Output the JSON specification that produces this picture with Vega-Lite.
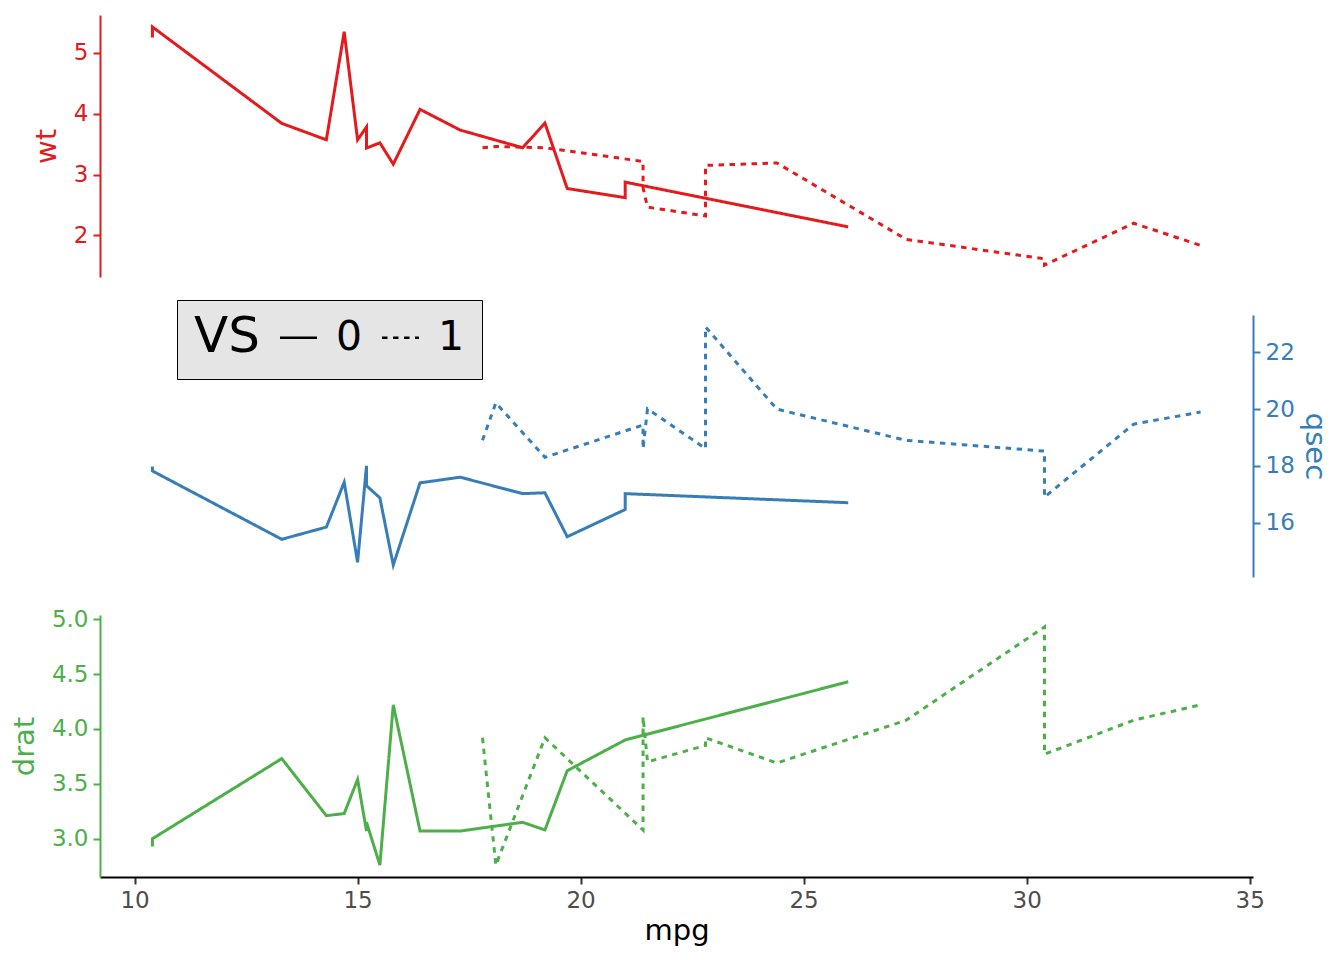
{
  "$schema": "https://vega.github.io/schema/vega-lite/v6.json",
  "background": "white",
  "padding": {"left": 10, "top": 15, "right": 10, "bottom": 10},
  "data": {
    "values": [
      {"car": "Cadillac Fleetwood", "mpg": 10.4, "wt": 5.25, "qsec": 17.98, "drat": 2.93, "vs": "0", "ord": 1},
      {"car": "Lincoln Continental", "mpg": 10.4, "wt": 5.424, "qsec": 17.82, "drat": 3.0, "vs": "0", "ord": 2},
      {"car": "Camaro Z28", "mpg": 13.3, "wt": 3.84, "qsec": 15.41, "drat": 3.73, "vs": "0", "ord": 3},
      {"car": "Duster 360", "mpg": 14.3, "wt": 3.57, "qsec": 15.84, "drat": 3.21, "vs": "0", "ord": 4},
      {"car": "Chrysler Imperial", "mpg": 14.7, "wt": 5.345, "qsec": 17.42, "drat": 3.23, "vs": "0", "ord": 5},
      {"car": "Maserati Bora", "mpg": 15.0, "wt": 3.57, "qsec": 14.6, "drat": 3.54, "vs": "0", "ord": 6},
      {"car": "Merc 450SLC", "mpg": 15.2, "wt": 3.78, "qsec": 18.0, "drat": 3.07, "vs": "0", "ord": 7},
      {"car": "AMC Javelin", "mpg": 15.2, "wt": 3.435, "qsec": 17.3, "drat": 3.15, "vs": "0", "ord": 8},
      {"car": "Dodge Challenger", "mpg": 15.5, "wt": 3.52, "qsec": 16.87, "drat": 2.76, "vs": "0", "ord": 9},
      {"car": "Ford Pantera L", "mpg": 15.8, "wt": 3.17, "qsec": 14.5, "drat": 4.22, "vs": "0", "ord": 10},
      {"car": "Merc 450SE", "mpg": 16.4, "wt": 4.07, "qsec": 17.4, "drat": 3.07, "vs": "0", "ord": 11},
      {"car": "Merc 450SL", "mpg": 17.3, "wt": 3.73, "qsec": 17.6, "drat": 3.07, "vs": "0", "ord": 12},
      {"car": "Merc 280C", "mpg": 17.8, "wt": 3.44, "qsec": 18.9, "drat": 3.92, "vs": "1", "ord": 13},
      {"car": "Valiant", "mpg": 18.1, "wt": 3.46, "qsec": 20.22, "drat": 2.76, "vs": "1", "ord": 14},
      {"car": "Hornet Sportabout", "mpg": 18.7, "wt": 3.44, "qsec": 17.02, "drat": 3.15, "vs": "0", "ord": 15},
      {"car": "Merc 280", "mpg": 19.2, "wt": 3.44, "qsec": 18.3, "drat": 3.92, "vs": "1", "ord": 16},
      {"car": "Pontiac Firebird", "mpg": 19.2, "wt": 3.845, "qsec": 17.05, "drat": 3.08, "vs": "0", "ord": 17},
      {"car": "Ferrari Dino", "mpg": 19.7, "wt": 2.77, "qsec": 15.5, "drat": 3.62, "vs": "0", "ord": 18},
      {"car": "Mazda RX4", "mpg": 21.0, "wt": 2.62, "qsec": 16.46, "drat": 3.9, "vs": "0", "ord": 19},
      {"car": "Mazda RX4 Wag", "mpg": 21.0, "wt": 2.875, "qsec": 17.02, "drat": 3.9, "vs": "0", "ord": 20},
      {"car": "Hornet 4 Drive", "mpg": 21.4, "wt": 3.215, "qsec": 19.44, "drat": 3.08, "vs": "1", "ord": 21},
      {"car": "Volvo 142E", "mpg": 21.4, "wt": 2.78, "qsec": 18.6, "drat": 4.11, "vs": "1", "ord": 22},
      {"car": "Toyota Corona", "mpg": 21.5, "wt": 2.465, "qsec": 20.01, "drat": 3.7, "vs": "1", "ord": 23},
      {"car": "Datsun 710", "mpg": 22.8, "wt": 2.32, "qsec": 18.61, "drat": 3.85, "vs": "1", "ord": 24},
      {"car": "Merc 230", "mpg": 22.8, "wt": 3.15, "qsec": 22.9, "drat": 3.92, "vs": "1", "ord": 25},
      {"car": "Merc 240D", "mpg": 24.4, "wt": 3.19, "qsec": 20.0, "drat": 3.69, "vs": "1", "ord": 26},
      {"car": "Porsche 914-2", "mpg": 26.0, "wt": 2.14, "qsec": 16.7, "drat": 4.43, "vs": "0", "ord": 27},
      {"car": "Fiat X1-9", "mpg": 27.3, "wt": 1.935, "qsec": 18.9, "drat": 4.08, "vs": "1", "ord": 28},
      {"car": "Honda Civic", "mpg": 30.4, "wt": 1.615, "qsec": 18.52, "drat": 4.93, "vs": "1", "ord": 29},
      {"car": "Lotus Europa", "mpg": 30.4, "wt": 1.513, "qsec": 16.9, "drat": 3.77, "vs": "1", "ord": 30},
      {"car": "Fiat 128", "mpg": 32.4, "wt": 2.2, "qsec": 19.47, "drat": 4.08, "vs": "1", "ord": 31},
      {"car": "Toyota Corolla", "mpg": 33.9, "wt": 1.835, "qsec": 19.9, "drat": 4.22, "vs": "1", "ord": 32}
    ]
  },
  "spacing": 31,
  "vconcat": [
    {
      "spacing": 38,
      "vconcat": [
        {
          "width": 1153,
          "height": 262,
          "mark": {"type": "line", "strokeWidth": 3, "color": "#E41A1C"},
          "encoding": {
            "x": {
              "field": "mpg",
              "type": "quantitative",
              "scale": {"domain": [9.225, 35.075], "nice": false, "zero": false},
              "axis": null
            },
            "y": {
              "field": "wt",
              "type": "quantitative",
              "scale": {"domain": [1.317, 5.62], "nice": false, "zero": false},
              "axis": {
                "title": "wt",
                "values": [2, 3, 4, 5],
                "labelColor": "#E41A1C",
                "titleColor": "#E41A1C",
                "domainColor": "#E41A1C",
                "tickColor": "#E41A1C"
              }
            },
            "strokeDash": {
              "field": "vs",
              "type": "nominal",
              "scale": {"domain": ["0", "1"], "range": [[1, 0], [5.5, 5.5]]},
              "legend": {"title": "VS", "symbolStrokeColor": "black"}
            },
            "order": {"field": "ord"}
          }
        },
        {
          "width": 1153,
          "height": 262,
          "mark": {"type": "line", "strokeWidth": 3, "color": "#377EB8"},
          "encoding": {
            "x": {
              "field": "mpg",
              "type": "quantitative",
              "scale": {"domain": [9.225, 35.075], "nice": false, "zero": false},
              "axis": null
            },
            "y": {
              "field": "qsec",
              "type": "quantitative",
              "scale": {"domain": [14.08, 23.32], "nice": false, "zero": false},
              "axis": {
                "title": "qsec",
                "orient": "right",
                "values": [16, 18, 20, 22],
                "titlePadding": 5,
                "labelColor": "#377EB8",
                "titleColor": "#377EB8",
                "domainColor": "#377EB8",
                "tickColor": "#377EB8"
              }
            },
            "strokeDash": {
              "field": "vs",
              "type": "nominal",
              "legend": {"title": "VS", "symbolStrokeColor": "black"}
            },
            "order": {"field": "ord"}
          }
        }
      ]
    },
    {
      "width": 1153,
      "height": 262,
      "mark": {"type": "line", "strokeWidth": 3, "color": "#4DAF4A"},
      "encoding": {
        "x": {
          "field": "mpg",
          "type": "quantitative",
          "scale": {"domain": [9.225, 35.075], "nice": false, "zero": false},
          "axis": {
            "title": "mpg",
            "values": [10, 15, 20, 25, 30, 35],
            "titlePadding": 4,
            "labelColor": "#4D4D4D",
            "titleColor": "black",
            "domainColor": "black",
            "tickColor": "#333333"
          }
        },
        "y": {
          "field": "drat",
          "type": "quantitative",
          "scale": {"domain": [2.6515, 5.0385], "nice": false, "zero": false},
          "axis": {
            "title": "drat",
            "values": [3.0, 3.5, 4.0, 4.5, 5.0],
            "format": ".1f",
            "labelColor": "#4DAF4A",
            "titleColor": "#4DAF4A",
            "domainColor": "#4DAF4A",
            "tickColor": "#4DAF4A"
          }
        },
        "strokeDash": {
          "field": "vs",
          "type": "nominal",
          "legend": {"title": "VS", "symbolStrokeColor": "black"}
        },
        "order": {"field": "ord"}
      }
    }
  ],
  "config": {
    "font": "DejaVu Sans",
    "view": {"stroke": null},
    "axis": {
      "grid": false,
      "domainWidth": 2,
      "tickWidth": 2,
      "tickSize": 7,
      "labelFontSize": 23,
      "labelPadding": 5,
      "titleFontSize": 29,
      "titleFontWeight": "normal",
      "titlePadding": 12
    },
    "legend": {
      "orient": "none",
      "legendX": 77,
      "legendY": 285,
      "direction": "horizontal",
      "titleOrient": "left",
      "titleFontSize": 50,
      "titleFontWeight": "normal",
      "titleColor": "black",
      "titlePadding": 18,
      "labelFontSize": 41,
      "labelColor": "black",
      "labelOffset": 17,
      "columnPadding": 14,
      "symbolType": "stroke",
      "symbolSize": 1369,
      "symbolStrokeWidth": 2.5,
      "symbolStrokeColor": "black",
      "fillColor": "#E5E5E5",
      "strokeColor": "black",
      "padding": 17,
      "cornerRadius": 0
    }
  }
}
